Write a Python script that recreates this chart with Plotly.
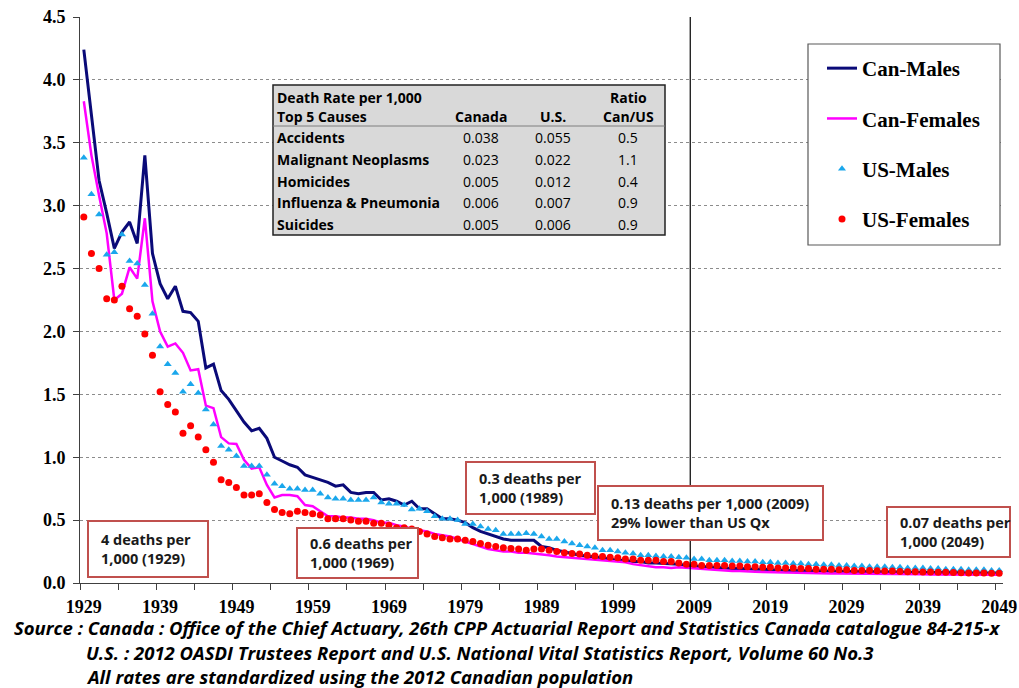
import plotly.graph_objects as go

# years 1929-2049, one value per year (death rate per 1,000)
YEARS = list(range(1929, 2050))

can_males = [
    4.24, 3.72, 3.20, 2.94, 2.66, 2.79, 2.87, 2.70, 3.40, 2.62,
    2.38, 2.26, 2.36, 2.16, 2.15, 2.08, 1.71, 1.74, 1.53, 1.46,
    1.375, 1.28, 1.21, 1.23, 1.15, 1.00, 0.97, 0.94, 0.92, 0.86,
    0.84, 0.82, 0.80, 0.77, 0.78, 0.72, 0.71, 0.72, 0.72, 0.66,
    0.67, 0.65, 0.62, 0.65, 0.59, 0.59, 0.55, 0.51, 0.51, 0.50,
    0.48, 0.44, 0.41, 0.39, 0.37, 0.35, 0.34, 0.34, 0.335, 0.34,
    0.29, 0.28, 0.26, 0.25, 0.235, 0.22, 0.215, 0.205, 0.20, 0.19,
    0.18, 0.18, 0.17, 0.17, 0.16, 0.16, 0.157, 0.155, 0.15, 0.14,
    0.135, 0.13,
    0.125, 0.12, 0.12, 0.115, 0.115, 0.11, 0.11, 0.11, 0.105, 0.105,
    0.10, 0.10, 0.10, 0.098, 0.096, 0.095, 0.094, 0.093, 0.092, 0.091,
    0.09, 0.09, 0.089, 0.088, 0.087, 0.086, 0.085, 0.085, 0.084, 0.084,
    0.083, 0.083, 0.082, 0.082, 0.081, 0.081, 0.08, 0.08, 0.08,
]

can_females = [
    3.83, 3.40, 3.08, 2.78, 2.25, 2.30, 2.51, 2.42, 2.90, 2.24,
    2.00, 1.88, 1.905, 1.83, 1.69, 1.70, 1.41, 1.39, 1.16, 1.11,
    1.105, 0.98, 0.91, 0.92, 0.78, 0.68, 0.70, 0.70, 0.69, 0.62,
    0.61, 0.57, 0.53, 0.53, 0.52, 0.52, 0.51, 0.51, 0.50, 0.48,
    0.48, 0.46, 0.45, 0.43, 0.42, 0.41, 0.39, 0.38, 0.37, 0.35,
    0.33, 0.31, 0.29, 0.27, 0.26, 0.25, 0.25, 0.24, 0.24, 0.235,
    0.23, 0.22, 0.21, 0.205, 0.20, 0.19, 0.19, 0.18, 0.18, 0.175,
    0.17, 0.165, 0.15, 0.14, 0.13, 0.125, 0.125, 0.12, 0.125, 0.12,
    0.12, 0.11,
    0.105, 0.10, 0.10, 0.095, 0.095, 0.09, 0.09, 0.088, 0.086, 0.085,
    0.083, 0.082, 0.08, 0.08, 0.078, 0.077, 0.076, 0.075, 0.075, 0.074,
    0.073, 0.072, 0.072, 0.071, 0.07, 0.07, 0.07, 0.069, 0.069, 0.068,
    0.068, 0.067, 0.067, 0.066, 0.066, 0.066, 0.065, 0.065, 0.065,
]

us_males = [
    3.38, 3.09, 2.93, 2.61, 2.63, 2.77, 2.56, 2.54, 2.37, 2.14,
    1.88, 1.74, 1.67, 1.52, 1.58, 1.51, 1.38, 1.26, 1.09, 1.06,
    1.01, 0.93, 0.93, 0.93, 0.86, 0.79, 0.77, 0.75, 0.75, 0.74,
    0.74, 0.71, 0.68, 0.67, 0.67, 0.66, 0.66, 0.66, 0.68, 0.64,
    0.63, 0.63, 0.62, 0.585, 0.59, 0.57, 0.53, 0.51, 0.51, 0.50,
    0.47, 0.47, 0.45, 0.43, 0.42, 0.39, 0.39, 0.39, 0.395, 0.39,
    0.37, 0.35, 0.35, 0.33, 0.315, 0.30, 0.29, 0.28, 0.26, 0.26,
    0.25, 0.24, 0.235, 0.22, 0.22, 0.215, 0.21, 0.21, 0.205, 0.20,
    0.19, 0.19, 0.18, 0.18,
    0.18, 0.175, 0.175, 0.17, 0.17, 0.165, 0.165, 0.16, 0.16, 0.155,
    0.155, 0.15, 0.15, 0.145, 0.145, 0.14, 0.14, 0.135, 0.135, 0.13,
    0.13, 0.13, 0.125, 0.125, 0.12, 0.12, 0.12, 0.115, 0.115, 0.11,
    0.11, 0.11, 0.105, 0.105, 0.105, 0.10, 0.10,
]

us_females = [
    2.91, 2.62, 2.50, 2.26, 2.25, 2.36, 2.18, 2.12, 1.98, 1.81,
    1.52, 1.42, 1.36, 1.19, 1.25, 1.16, 1.06, 0.96, 0.82, 0.80,
    0.76, 0.70, 0.70, 0.71, 0.64, 0.585, 0.56, 0.55, 0.57, 0.56,
    0.55, 0.54, 0.51, 0.51, 0.51, 0.50, 0.49, 0.49, 0.475, 0.475,
    0.46, 0.44, 0.44, 0.43, 0.41, 0.39, 0.37, 0.36, 0.35, 0.35,
    0.34, 0.33, 0.315, 0.30, 0.29, 0.28, 0.275, 0.27, 0.26, 0.27,
    0.27, 0.26, 0.25, 0.24, 0.235, 0.23, 0.22, 0.215, 0.21, 0.205,
    0.20, 0.19, 0.19, 0.18, 0.18, 0.18, 0.17, 0.17, 0.16, 0.15,
    0.15, 0.14, 0.14, 0.14,
    0.14, 0.135, 0.135, 0.13, 0.13, 0.125, 0.125, 0.12, 0.12, 0.12,
    0.115, 0.115, 0.11, 0.11, 0.11, 0.105, 0.105, 0.10, 0.10, 0.10,
    0.097, 0.095, 0.095, 0.092, 0.09, 0.09, 0.088, 0.087, 0.085, 0.085,
    0.083, 0.082, 0.08, 0.08, 0.08, 0.078, 0.078,
]

TICK_LABELS = ["1929", "1939", "1949", "1959", "1969", "1979", "1989",
               "1999", "2009", "2019", "2029", "2039", "2049"]
PROJECTION_START = 2009

# inset table
TABLE_HEAD1 = ["Death Rate per 1,000", "", "", "Ratio"]
TABLE_HEAD2 = ["Top 5 Causes", "Canada", "U.S.", "Can/US"]
CAUSES = ["Accidents", "Malignant Neoplasms", "Homicides",
          "Influenza & Pneumonia", "Suicides"]
CANADA_RATE = ["0.038", "0.023", "0.005", "0.006", "0.005"]
US_RATE = ["0.055", "0.022", "0.012", "0.007", "0.006"]
RATIO = ["0.5", "1.1", "0.4", "0.9", "0.9"]

# callout boxes
CALLOUTS = [
    "4 deaths per<br>1,000 (1929)",
    "0.6 deaths per<br>1,000 (1969)",
    "0.3 deaths per<br>1,000 (1989)",
    "0.13 deaths per 1,000 (2009)<br>29% lower than US Qx",
    "0.07 deaths per<br>1,000 (2049)",
]

SOURCE_LINES = [
    "Source : Canada : Office of the Chief Actuary, 26th CPP Actuarial Report and Statistics Canada catalogue 84-215-x",
    "U.S. : 2012 OASDI Trustees Report and U.S. National Vital Statistics Report, Volume 60 No.3",
    "All rates are standardized using the 2012 Canadian population",
]

W, H = 1019, 688
PL, PR, PT, PB = 80, 1003, 17, 583   # plot area in pixels


def px(x):
    return (x - PL) / (PR - PL)


def py(y):
    return (PB - y) / (PB - PT)


SERIF = "Liberation Serif"
SANS = "Open Sans"

fig = go.Figure()
fig.add_trace(go.Scatter(x=YEARS, y=can_males, mode="lines", name="Can-Males",
                         line=dict(color="#0a0a78", width=3), legendgroup="a"))
fig.add_trace(go.Scatter(x=YEARS, y=can_females, mode="lines", name="Can-Females",
                         line=dict(color="#ff00ff", width=2.5), legendgroup="b"))
fig.add_trace(go.Scatter(x=YEARS, y=us_males, mode="markers", name="US-Males",
                         marker=dict(symbol="triangle-up", color="#1aa7ec", size=7),
                         legendgroup="c"))
fig.add_trace(go.Scatter(x=YEARS, y=us_females, mode="markers", name="US-Females",
                         marker=dict(symbol="circle", color="#ff0000", size=7),
                         legendgroup="d"))

shapes = []
# projection start line (category boundary before 2009)
shapes.append(dict(type="line", xref="x", yref="paper", x0=PROJECTION_START - 0.5,
                   x1=PROJECTION_START - 0.5, y0=0, y1=1,
                   line=dict(color="black", width=1.2)))
# legend box
shapes.append(dict(type="rect", xref="paper", yref="paper", x0=px(808), x1=px(1000),
                   y0=py(245), y1=py(44), fillcolor="white",
                   line=dict(color="#595959", width=1.2), layer="above"))
# table box
shapes.append(dict(type="rect", xref="paper", yref="paper", x0=px(273), x1=px(665),
                   y0=py(235), y1=py(85), fillcolor="#d9d9d9",
                   line=dict(color="#222222", width=1.5), layer="above"))
shapes.append(dict(type="line", xref="paper", yref="paper", x0=px(273), x1=px(665),
                   y0=py(126), y1=py(126), line=dict(color="#7f7f7f", width=1),
                   layer="above"))

annotations = []
tfont = dict(family=SANS, size=14, color="black")
col_x = [275, 481, 553, 628]
for row_y, row in ((97, TABLE_HEAD1), (116, TABLE_HEAD2)):
    for i, txt in enumerate(row):
        if not txt:
            continue
        annotations.append(dict(
            xref="paper", yref="paper", x=px(col_x[i]), y=py(row_y), text="<b>%s</b>" % txt,
            showarrow=False, xanchor="left" if i == 0 else "center", yanchor="middle",
            font=tfont))
for r, cause in enumerate(CAUSES):
    row_y = 137.5 + r * 21.8
    cells = ["<b>%s</b>" % cause, CANADA_RATE[r], US_RATE[r], RATIO[r]]
    for i, txt in enumerate(cells):
        annotations.append(dict(
            xref="paper", yref="paper", x=px(col_x[i]), y=py(row_y), text=txt,
            showarrow=False, xanchor="left" if i == 0 else "center", yanchor="middle",
            font=tfont))

# callouts: (left, top, right, bottom) in pixels
boxes = [(88, 521, 208, 577), (297, 528, 418, 578), (466, 462, 595, 514),
         (598, 486, 823, 540), (887, 507, 1010, 557)]
for txt, (x0, y0, x1, y1) in zip(CALLOUTS, boxes):
    shapes.append(dict(type="rect", xref="paper", yref="paper", x0=px(x0), x1=px(x1),
                       y0=py(y1), y1=py(y0), fillcolor="white",
                       line=dict(color="#c0504d", width=2), layer="above"))
    annotations.append(dict(
        xref="paper", yref="paper", x=px(x0 + 11), y=py((y0 + y1) / 2),
        xanchor="left", yanchor="middle", text="<b>%s</b>" % txt, showarrow=False,
        align="left", font=dict(family=SANS, size=14.5, color="#1a1a1a")))

# source lines
for i, (txt, x0) in enumerate(zip(SOURCE_LINES, [12, 84, 84])):
    annotations.append(dict(
        xref="paper", yref="paper", x=px(x0), y=py(628 + i * 24), xanchor="left",
        yanchor="middle", text="<b><i>%s</i></b>" % txt, showarrow=False,
        font=dict(family=SANS, size=18.5, color="black")))

fig.update_layout(
    width=W, height=H, autosize=False,
    margin=dict(l=PL, r=W - PR, t=PT, b=H - PB, autoexpand=False),
    paper_bgcolor="white", plot_bgcolor="white",
    showlegend=True,
    legend=dict(x=px(822), y=py(48), xanchor="left", yanchor="top",
                bgcolor="rgba(0,0,0,0)", borderwidth=0, tracegroupgap=20,
                font=dict(family=SERIF, size=21, color="black", weight="bold"),
                itemwidth=30),
    shapes=shapes,
    annotations=annotations,
    xaxis=dict(
        range=[1928.5, 2049.5], tickmode="array", automargin=False,
        tickvals=[int(t) for t in TICK_LABELS], ticktext=TICK_LABELS,
        ticks="", ticklabelstandoff=7,
        minor=dict(ticks="outside", tick0=1928.5, dtick=5, ticklen=6,
                   tickcolor="#404040", showgrid=False),
        showline=True, linecolor="#404040", linewidth=1,
        showgrid=False, zeroline=False,
        tickfont=dict(family=SERIF, size=18, color="black", weight="bold"),
    ),
    yaxis=dict(
        range=[0, 4.5], dtick=0.5, tickformat=".1f", automargin=False,
        ticks="outside", ticklen=6, tickcolor="#404040",
        showline=True, linecolor="#404040", linewidth=1,
        showgrid=True, gridcolor="#8c8c8c", griddash="dot", gridwidth=1,
        zeroline=False,
        tickfont=dict(family=SERIF, size=18, color="black", weight="bold"),
        ticklabelstandoff=4,
    ),
)

fig.write_html("out.html", config={"displayModeBar": False},
               post_script="document.body.style.margin='0px';")
